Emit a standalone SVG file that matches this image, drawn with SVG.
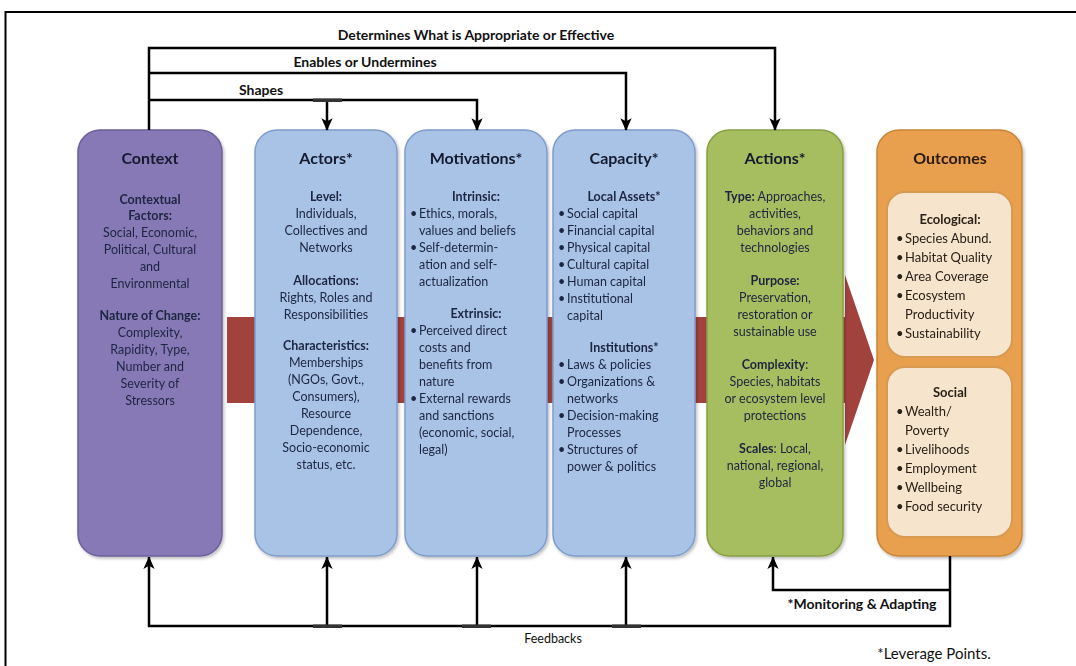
<svg xmlns="http://www.w3.org/2000/svg" width="1076" height="666" viewBox="0 0 1076 666">
<defs>
<marker id="ah" viewBox="0 0 10 10" refX="9.5" refY="5" markerWidth="5" markerHeight="5" orient="auto-start-reverse" markerUnits="strokeWidth">
<path d="M0,0.5 L10,5 L0,9.5 L2.5,5 z" fill="#000"/>
</marker>
<filter id="sh" x="-10%" y="-10%" width="130%" height="130%">
<feDropShadow dx="1.5" dy="2" stdDeviation="1.5" flood-color="#000" flood-opacity="0.25"/>
</filter>
<style>
.lbl{font-family:Lato,"Liberation Sans",sans-serif;font-size:14px;font-weight:bold;fill:#111;text-anchor:middle}
.title{font-family:Lato,"Liberation Sans",sans-serif;font-size:16px;font-weight:bold;fill:#141a2e;text-anchor:middle}
.t{font-family:Lato,"Liberation Sans",sans-serif;font-size:12.5px;fill:#1d2540;text-anchor:middle}
.tl{font-family:Lato,"Liberation Sans",sans-serif;font-size:12.5px;fill:#1d2540}
.to{font-family:Lato,"Liberation Sans",sans-serif;font-size:13px;fill:#2a2218}
.b{font-weight:bold}
.conn{fill:none;stroke:#000;stroke-width:2.5}
.arr{marker-end:url(#ah)}
.tick{fill:#333}
</style>
</defs>
<rect x="0" y="0" width="1076" height="666" fill="#fff"/>
<rect x="5.5" y="12" width="1100" height="700" fill="none" stroke="#000" stroke-width="2"/>

<g id="flow-arrow">
<polygon points="227,317 845,317 845,275 874,360 845,445 845,403 227,403" fill="#a2423d"/>
</g>

<g id="context" filter="url(#sh)">
<rect x="78" y="130" width="144" height="426" rx="22" fill="#8779b5" stroke="#6d5f9b" stroke-width="1.5"/>
<text class="title" x="150" y="164">Context</text>
<text class="t b" x="150" y="204">Contextual</text>
<text class="t b" x="150" y="220">Factors:</text>
<text class="t" x="150" y="237">Social, Economic,</text>
<text class="t" x="150" y="254">Political,  Cultural</text>
<text class="t" x="150" y="271">and</text>
<text class="t" x="150" y="288">Environmental</text>
<text class="t b" x="150" y="320">Nature of Change:</text>
<text class="t" x="150" y="337">Complexity,</text>
<text class="t" x="150" y="354">Rapidity, Type,</text>
<text class="t" x="150" y="371">Number and</text>
<text class="t" x="150" y="388">Severity of</text>
<text class="t" x="150" y="405">Stressors</text>
</g>

<g id="actors" filter="url(#sh)">
<rect x="255" y="130" width="142" height="426" rx="22" fill="#a9c3e7" stroke="#7f9ccb" stroke-width="1.5"/>
<text class="title" x="326" y="164">Actors*</text>
<text class="t b" x="326" y="201">Level:</text>
<text class="t" x="326" y="218">Individuals,</text>
<text class="t" x="326" y="235">Collectives and</text>
<text class="t" x="326" y="252">Networks</text>
<text class="t b" x="326" y="285">Allocations:</text>
<text class="t" x="326" y="302">Rights, Roles and</text>
<text class="t" x="326" y="319">Responsibilities</text>
<text class="t b" x="326" y="350">Characteristics:</text>
<text class="t" x="326" y="367">Memberships</text>
<text class="t" x="326" y="384">(NGOs, Govt.,</text>
<text class="t" x="326" y="401">Consumers),</text>
<text class="t" x="326" y="418">Resource</text>
<text class="t" x="326" y="435">Dependence,</text>
<text class="t" x="326" y="452">Socio-economic</text>
<text class="t" x="326" y="469">status, etc.</text>
</g>

<g id="motivations" filter="url(#sh)">
<rect x="405" y="130" width="142" height="426" rx="22" fill="#a9c3e7" stroke="#7f9ccb" stroke-width="1.5"/>
<text class="title" x="476" y="164">Motivations*</text>
<text class="t b" x="476" y="201">Intrinsic:</text>
<text class="tl" x="410" y="218">•</text><text class="tl" x="419" y="218">Ethics, morals,</text>
<text class="tl" x="419" y="235">values and beliefs</text>
<text class="tl" x="410" y="252">•</text><text class="tl" x="419" y="252">Self-determin-</text>
<text class="tl" x="419" y="269">ation and self-</text>
<text class="tl" x="419" y="286">actualization</text>
<text class="t b" x="476" y="318">Extrinsic:</text>
<text class="tl" x="410" y="335">•</text><text class="tl" x="419" y="335">Perceived direct</text>
<text class="tl" x="419" y="352">costs and</text>
<text class="tl" x="419" y="369">benefits from</text>
<text class="tl" x="419" y="386">nature</text>
<text class="tl" x="410" y="403">•</text><text class="tl" x="419" y="403">External rewards</text>
<text class="tl" x="419" y="420">and sanctions</text>
<text class="tl" x="419" y="437">(economic, social,</text>
<text class="tl" x="419" y="454">legal)</text>
</g>

<g id="capacity" filter="url(#sh)">
<rect x="553" y="130" width="142" height="426" rx="22" fill="#a9c3e7" stroke="#7f9ccb" stroke-width="1.5"/>
<text class="title" x="624" y="164">Capacity*</text>
<text class="t b" x="624" y="201">Local Assets*</text>
<text class="tl" x="558" y="218">•</text><text class="tl" x="567" y="218">Social capital</text>
<text class="tl" x="558" y="235">•</text><text class="tl" x="567" y="235">Financial capital</text>
<text class="tl" x="558" y="252">•</text><text class="tl" x="567" y="252">Physical capital</text>
<text class="tl" x="558" y="269">•</text><text class="tl" x="567" y="269">Cultural capital</text>
<text class="tl" x="558" y="286">•</text><text class="tl" x="567" y="286">Human capital</text>
<text class="tl" x="558" y="303">•</text><text class="tl" x="567" y="303">Institutional</text>
<text class="tl" x="567" y="320">capital</text>
<text class="t b" x="624" y="352">Institutions*</text>
<text class="tl" x="558" y="369">•</text><text class="tl" x="567" y="369">Laws &amp; policies</text>
<text class="tl" x="558" y="386">•</text><text class="tl" x="567" y="386">Organizations &amp;</text>
<text class="tl" x="567" y="403">networks</text>
<text class="tl" x="558" y="420">•</text><text class="tl" x="567" y="420">Decision-making</text>
<text class="tl" x="567" y="437">Processes</text>
<text class="tl" x="558" y="454">•</text><text class="tl" x="567" y="454">Structures of</text>
<text class="tl" x="567" y="471">power &amp; politics</text>
</g>

<g id="actions" filter="url(#sh)">
<rect x="707" y="130" width="136" height="426" rx="22" fill="#a6be5f" stroke="#86a043" stroke-width="1.5"/>
<text class="title" x="775" y="164">Actions*</text>
<text class="t" x="775" y="201"><tspan class="b">Type:</tspan> Approaches,</text>
<text class="t" x="775" y="218">activities,</text>
<text class="t" x="775" y="235">behaviors and</text>
<text class="t" x="775" y="252">technologies</text>
<text class="t b" x="775" y="285">Purpose:</text>
<text class="t" x="775" y="302">Preservation,</text>
<text class="t" x="775" y="319">restoration or</text>
<text class="t" x="775" y="336">sustainable use</text>
<text class="t" x="775" y="369"><tspan class="b">Complexity</tspan>:</text>
<text class="t" x="775" y="386">Species, habitats</text>
<text class="t" x="775" y="403">or ecosystem level</text>
<text class="t" x="775" y="420">protections</text>
<text class="t" x="775" y="453"><tspan class="b">Scales</tspan>: Local,</text>
<text class="t" x="775" y="470">national, regional,</text>
<text class="t" x="775" y="487">global</text>
</g>

<g id="outcomes" filter="url(#sh)">
<rect x="877" y="130" width="145" height="426" rx="22" fill="#e8a04f" stroke="#c98537" stroke-width="1.5"/>
<text class="title" x="950" y="164" style="fill:#2a1a0e">Outcomes</text>
<rect x="887" y="192" width="125" height="165" rx="18" fill="#f6e4cd" stroke="#d79a52" stroke-width="2"/>
<text class="to b" x="950" y="224" text-anchor="middle">Ecological:</text>
<text class="to" x="896" y="243">•</text><text class="to" x="905" y="243">Species Abund.</text>
<text class="to" x="896" y="262">•</text><text class="to" x="905" y="262">Habitat Quality</text>
<text class="to" x="896" y="281">•</text><text class="to" x="905" y="281">Area Coverage</text>
<text class="to" x="896" y="300">•</text><text class="to" x="905" y="300">Ecosystem</text>
<text class="to" x="905" y="319">Productivity</text>
<text class="to" x="896" y="338">•</text><text class="to" x="905" y="338">Sustainability</text>
<rect x="887" y="367" width="125" height="170" rx="18" fill="#f6e4cd" stroke="#d79a52" stroke-width="2"/>
<text class="to b" x="950" y="397" text-anchor="middle">Social</text>
<text class="to" x="896" y="416">•</text><text class="to" x="905" y="416">Wealth/</text>
<text class="to" x="905" y="435">Poverty</text>
<text class="to" x="896" y="454">•</text><text class="to" x="905" y="454">Livelihoods</text>
<text class="to" x="896" y="473">•</text><text class="to" x="905" y="473">Employment</text>
<text class="to" x="896" y="492">•</text><text class="to" x="905" y="492">Wellbeing</text>
<text class="to" x="896" y="511">•</text><text class="to" x="905" y="511">Food security</text>
</g>

<g id="connectors">
<path class="conn arr" d="M149,130 V48 H775 V130"/>
<path class="conn arr" d="M149,73 H626 V130"/>
<path class="conn arr" d="M149,100 H477 V130"/>
<path class="conn arr" d="M327,100 V130"/>
<rect class="tick" x="313" y="98.5" width="29" height="3.5"/>
<path class="conn arr" d="M950,556 V626 H149 V557"/>
<path class="conn arr" d="M327,626 V557"/>
<path class="conn arr" d="M477,626 V557"/>
<path class="conn arr" d="M626,626 V557"/>
<path class="conn arr" d="M950,590 H773 V557"/>
<rect class="tick" x="313" y="624.5" width="29" height="3.5"/>
<rect class="tick" x="462" y="624.5" width="29" height="3.5"/>
<rect class="tick" x="612" y="624.5" width="29" height="3.5"/>
<text class="lbl" x="476" y="40">Determines What is Appropriate or Effective</text>
<text class="lbl" x="365" y="67">Enables or Undermines</text>
<text class="lbl" x="261" y="95">Shapes</text>
<text class="lbl" x="862" y="609">*Monitoring &amp; Adapting</text>
<text class="t" x="553" y="643" style="fill:#111">Feedbacks</text>
</g>
<text x="934" y="659" style="font-family:Lato,'Liberation Sans',sans-serif;font-size:15px;fill:#111;text-anchor:middle">*Leverage Points.</text>
</svg>
